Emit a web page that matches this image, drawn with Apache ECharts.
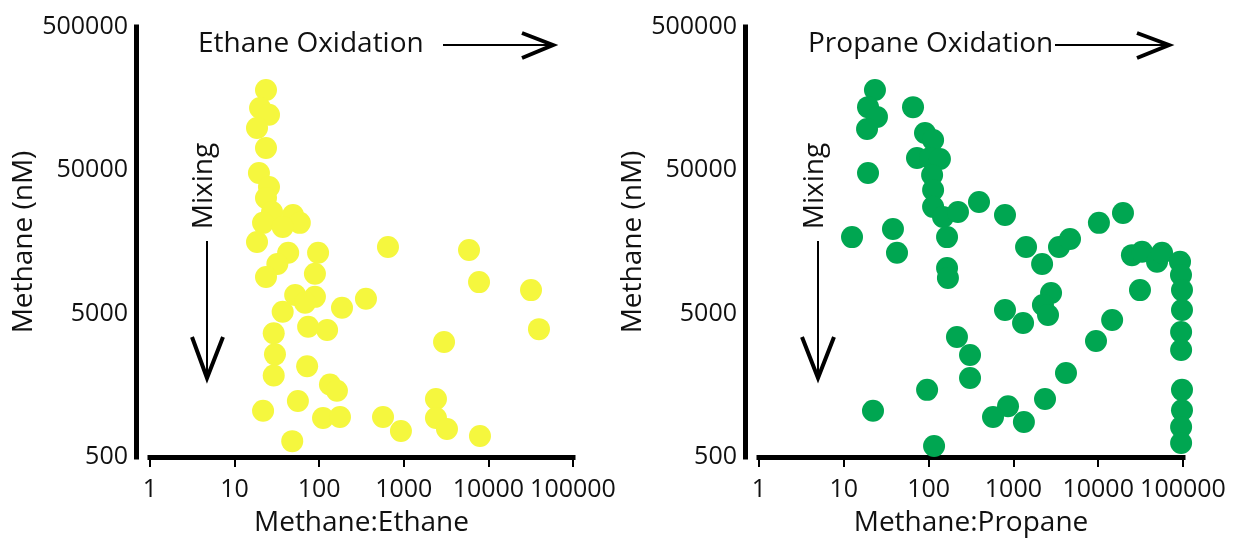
<!DOCTYPE html>
<html>
<head>
<meta charset="utf-8">
<script src="https://cdn.jsdelivr.net/npm/echarts@6.0.0/dist/echarts.min.js"></script>
<style>
html,body{margin:0;padding:0;background:#fff;}
#chart{width:1236px;height:544px;}
</style>
</head>
<body>
<div id="chart"></div>
<script>
// ---- data ----
const yTicks = [500, 5000, 50000, 500000];

const ethaneRatio = [23.5, 20, 25.5, 18.4, 23.5, 19.4, 25.5, 23.5, 27.7, 49,
  59, 21.7, 37, 18.4, 43, 97, 32, 23.5, 89, 52,
  89, 68, 37, 186, 357, 74, 124, 29, 30, 72,
  29, 134, 162, 21.7, 56, 111, 176, 48, 650, 5900,
  7750, 31900, 39600, 2990, 2400, 2400, 568, 925, 3240, 7950];
const ethaneMethane = [182000, 136000, 122000, 98700, 71600, 47900, 38300, 32100, 25600, 24400,
  21500, 21500, 20100, 15800, 13300, 13300, 11100, 9000, 9500, 6750,
  6550, 5950, 5150, 5500, 6350, 4050, 3850, 3650, 2600, 2150,
  1850, 1600, 1450, 1050, 1230, 935, 950, 645, 14600, 13900,
  8300, 7300, 3900, 3170, 1270, 935, 950, 760, 785, 700];

const propaneRatio = [23.3, 19.3, 24.6, 18.8, 65.5, 90.7, 113, 73, 104, 136,
  19.3, 110, 113, 113, 148, 222, 393, 12.5, 38, 42.4,
  165, 165, 169, 216, 308, 308, 96, 22.1, 116, 796,
  1410, 2180, 3450, 4650, 10200, 19600, 25000, 32900, 49400, 56600,
  92200, 94700, 97300, 97300, 95000, 95000, 97300, 97300, 95000, 95000,
  31100, 2780, 2230, 2560, 796, 1300, 14600, 9420, 4170, 2360,
  864, 575, 1330];
const propaneMethane = [182000, 138000, 118000, 97000, 138000, 91000, 81400, 61000, 61000, 60000,
  47900, 46400, 36500, 27800, 23600, 25600, 30100, 17100, 19500, 13300,
  17100, 10400, 8870, 3440, 2570, 1780, 1470, 1050, 597, 24400,
  14600, 11100, 14600, 16600, 21500, 25200, 12800, 13500, 11500, 13300,
  11500, 9300, 7300, 5300, 3730, 2790, 1470, 1060, 810, 626,
  7300, 6970, 5750, 4890, 5300, 4300, 4520, 3220, 1930, 1270,
  1130, 950, 878];

const panelTitles = ['Ethane Oxidation', 'Propane Oxidation'];
const xNames = ['Methane:Ethane', 'Methane:Propane'];
const yName = 'Methane (nM)';
const mixText = 'Mixing';

// ---- chart ----
const FONT = '"Open Sans", "DejaVu Sans", sans-serif';
const chart = echarts.init(document.getElementById('chart'), null, {renderer: 'canvas'});

function pairs(xs, ys) { return xs.map((x, i) => [x, ys[i]]); }

function xAxisFor(gi, name) {
  return {
    type: 'log', logBase: 10, min: 1, max: 100000, gridIndex: gi,
    name: name, nameLocation: 'middle', nameGap: 52,
    nameTextStyle: {fontSize: 28, fontFamily: FONT, color: '#111'},
    axisLine: {show: true, lineStyle: {color: '#000', width: 5, cap: 'square'}},
    axisTick: {show: true, inside: false, length: 10, lineStyle: {color: '#000', width: 2}},
    axisLabel: {fontSize: 25, fontFamily: FONT, color: '#111', margin: 20,
      formatter: v => String(Math.round(v))},
    splitLine: {show: false}, minorTick: {show: false}
  };
}
function yAxisFor(gi) {
  return {
    type: 'log', logBase: 10, min: 500, max: 500000, gridIndex: gi, offset: 14,
    name: yName, nameLocation: 'middle', nameGap: 92,
    nameTextStyle: {fontSize: 28, fontFamily: FONT, color: '#111'},
    axisLine: {show: true, lineStyle: {color: '#000', width: 5, cap: 'square'}},
    axisTick: {show: false},
    axisLabel: {fontSize: 25, fontFamily: FONT, color: '#111', margin: 8,
      customValues: yTicks, formatter: v => String(Math.round(v))},
    splitLine: {show: false}, minorTick: {show: false}
  };
}

function txt(x, y, s, opts) {
  return Object.assign({type: 'text', x: x, y: y, silent: true,
    style: {text: s, fontSize: 28, fontFamily: FONT, fill: '#111',
      textAlign: 'left', textVerticalAlign: 'middle'}}, opts || {});
}
function line(x1, y1, x2, y2, w) {
  return {type: 'line', silent: true, shape: {x1, y1, x2, y2},
    style: {stroke: '#000', lineWidth: w}};
}
function chevron(pts) {
  return {type: 'polyline', silent: true, shape: {points: pts},
    style: {stroke: '#000', lineWidth: 4, fill: null, lineJoin: 'miter', lineCap: 'butt'}};
}
function rotText(x, y, s) {
  return {type: 'text', x: x, y: y, rotation: Math.PI / 2, silent: true,
    style: {text: s, fontSize: 28, fontFamily: FONT, fill: '#111',
      textAlign: 'center', textVerticalAlign: 'middle'}};
}

const option = {
  animation: false,
  backgroundColor: '#fff',
  grid: [
    {left: 150, right: 663, top: 27, bottom: 87, containLabel: false, outerBoundsMode: 'none'},
    {left: 759, right: 53, top: 27, bottom: 87, containLabel: false, outerBoundsMode: 'none'}
  ],
  xAxis: [xAxisFor(0, xNames[0]), xAxisFor(1, xNames[1])],
  yAxis: [yAxisFor(0), yAxisFor(1)],
  series: [
    {type: 'scatter', xAxisIndex: 0, yAxisIndex: 0, symbol: 'circle', symbolSize: 22,
      clip: false, itemStyle: {color: '#F5F73E', opacity: 1},
      data: pairs(ethaneRatio, ethaneMethane)},
    {type: 'scatter', xAxisIndex: 1, yAxisIndex: 1, symbol: 'circle', symbolSize: 22,
      clip: false, itemStyle: {color: '#00A651', opacity: 1},
      data: pairs(propaneRatio, propaneMethane)}
  ],
  graphic: [
    txt(198, 44, panelTitles[0]),
    line(443, 45, 552, 45, 2),
    chevron([[522, 33], [553, 45], [522, 58]]),
    rotText(204, 186, mixText),
    line(207, 241, 207, 376, 2),
    chevron([[192, 337], [207, 378], [223, 337]]),

    txt(808, 44, panelTitles[1]),
    line(1055, 45, 1168, 45, 2),
    chevron([[1137, 33], [1169, 45], [1137, 58]]),
    rotText(815, 186, mixText),
    line(818, 241, 818, 376, 2),
    chevron([[802, 337], [818, 378], [834, 337]])
  ]
};
chart.setOption(option);
</script>
</body>
</html>
